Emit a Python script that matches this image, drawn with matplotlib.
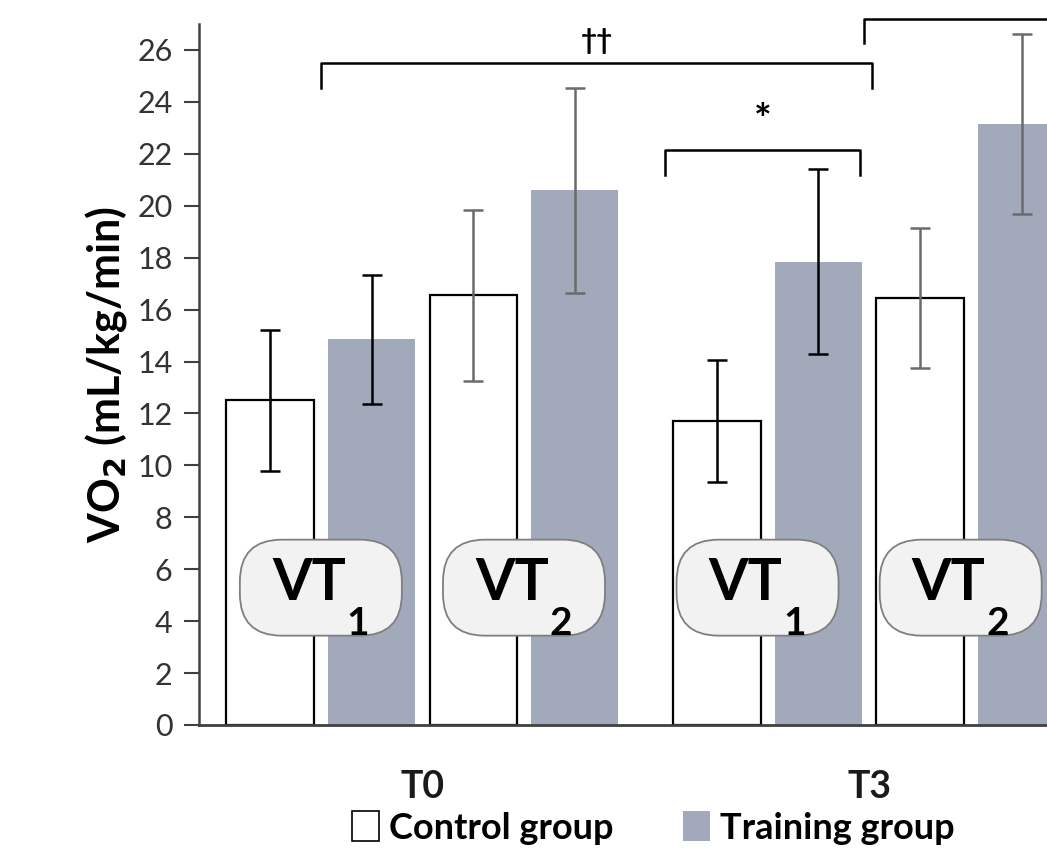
#!/usr/bin/env python3
"""VO2 at ventilatory thresholds, control vs training group, T0 and T3."""

import matplotlib

matplotlib.use("Agg")
import matplotlib.pyplot as plt
from matplotlib.patches import FancyBboxPatch, Patch
from matplotlib.transforms import ScaledTranslation

plt.rcParams["font.family"] = ["Lato", "DejaVu Sans"]

# order inside each time point: VT1, VT2
timepoints = ["T0", "T3"]
thresholds = ["1", "2"]
control_mean = [12.5, 16.55, 11.7, 16.45]
control_sd = [2.7, 3.3, 2.35, 2.7]
training_mean = [14.85, 20.6, 17.85, 23.15]
training_sd = [2.5, 3.95, 3.55, 3.45]
err_colors = ["black", "#6b6b6b", "black", "#6b6b6b"]

# significance brackets: (x_left, x_right, y_top, y_leg, label, label_size)
brackets = [
    (0.5, 5.93, 25.5, 24.55, "††", 20),
    (3.89, 5.81, 22.15, 21.2, "*", 30),
    (5.85, 9.5, 27.2, 26.25, "", 20),
]

GROUP_OFFSET = 4.4
BAR_W = 0.86
TRAIN_COLOR = "#a1a9bb"

fig = plt.figure(figsize=(10.47, 8.52), dpi=100)
ax = fig.add_axes([199 / 1047, 127 / 852, 1 - 199 / 1047, 701 / 852])

x_ctrl, x_train = [], []
for g in range(len(timepoints)):
    for t in range(len(thresholds)):
        base = g * GROUP_OFFSET + 2 * t
        x_ctrl.append(base)
        x_train.append(base + 1)

ax.bar(x_ctrl, control_mean, width=BAR_W, color="white", edgecolor="black", linewidth=1.6, zorder=2)
ax.bar(x_train, training_mean, width=BAR_W, color=TRAIN_COLOR, edgecolor="none", zorder=2)
for i in range(len(x_ctrl)):
    ax.errorbar(x_ctrl[i], control_mean[i], yerr=control_sd[i], fmt="none",
                ecolor=err_colors[i], elinewidth=1.8, capsize=7, capthick=1.8, zorder=3)
    ax.errorbar(x_train[i], training_mean[i], yerr=training_sd[i], fmt="none",
                ecolor=err_colors[i], elinewidth=1.8, capsize=7, capthick=1.8, zorder=3)

# VT labels in rounded boxes, centred between each pair of bars
for i in range(len(x_ctrl)):
    cx = (x_ctrl[i] + x_train[i]) / 2 - (0.1 if i >= 2 else 0)
    cy = 5.29
    tr = fig.dpi_scale_trans + ScaledTranslation(cx, cy, ax.transData)
    box = FancyBboxPatch((-0.81, -0.48), 1.62, 0.96,
                         boxstyle="round,pad=0,rounding_size=0.42",
                         facecolor="#f2f2f2", edgecolor="#7f7f7f", linewidth=1.3,
                         transform=tr, zorder=4, clip_on=False)
    ax.add_patch(box)
    ax.annotate("VT", xy=(cx, cy), xytext=(25, -12), textcoords="offset pixels",
                ha="right", va="baseline", fontsize=41, fontweight="bold", zorder=5)
    ax.annotate(thresholds[i % 2], xy=(cx, cy), xytext=(26, -47), textcoords="offset pixels",
                ha="left", va="baseline", fontsize=28, fontweight="bold", zorder=5)

for x0, x1, ytop, yleg, label, size in brackets:
    ax.plot([x0, x0, x1, x1], [yleg, ytop, ytop, yleg], color="black", linewidth=1.8,
            clip_on=False, zorder=3)
    if label:
        ax.text((x0 + x1) / 2, ytop + 0.35, label, ha="center", va="bottom",
                fontsize=size, fontweight="bold")

ax.set_xlim(-0.70, 7.65)
ax.set_ylim(0, 27)
ax.set_yticks(range(0, 27, 2))
ax.set_xticks([])
ax.spines["top"].set_visible(False)
ax.spines["right"].set_visible(False)
ax.spines["left"].set_color("#404040")
ax.spines["bottom"].set_color("#404040")
ax.spines["left"].set_linewidth(1.8)
ax.spines["bottom"].set_linewidth(2.0)
ax.tick_params(axis="y", direction="out", length=11, width=1.5, color="#404040",
               labelsize=22, labelcolor="#333333", pad=8)

for g, name in enumerate(timepoints):
    ax.text(g * GROUP_OFFSET + 1.5, -2.4, name, ha="center", va="center",
            fontsize=27, fontweight="bold", color="#1a1a1a")

ax.set_ylabel("VO$_\\mathbf{2}$ (mL/kg/min)", fontsize=31, fontweight="bold", labelpad=6)

handles = [Patch(facecolor="white", edgecolor="black", linewidth=1.2),
           Patch(facecolor=TRAIN_COLOR, edgecolor="none")]
fig.legend(handles, ["Control group", "Training group"], loc="center",
           bbox_to_anchor=(0.624, 0.028), ncol=2, frameon=False,
           handlelength=0.75, handleheight=0.9, handletextpad=0.3, columnspacing=1.9,
           borderaxespad=0, borderpad=0,
           prop={"size": 26, "weight": "bold"})

fig.savefig("out.png", dpi=100)
